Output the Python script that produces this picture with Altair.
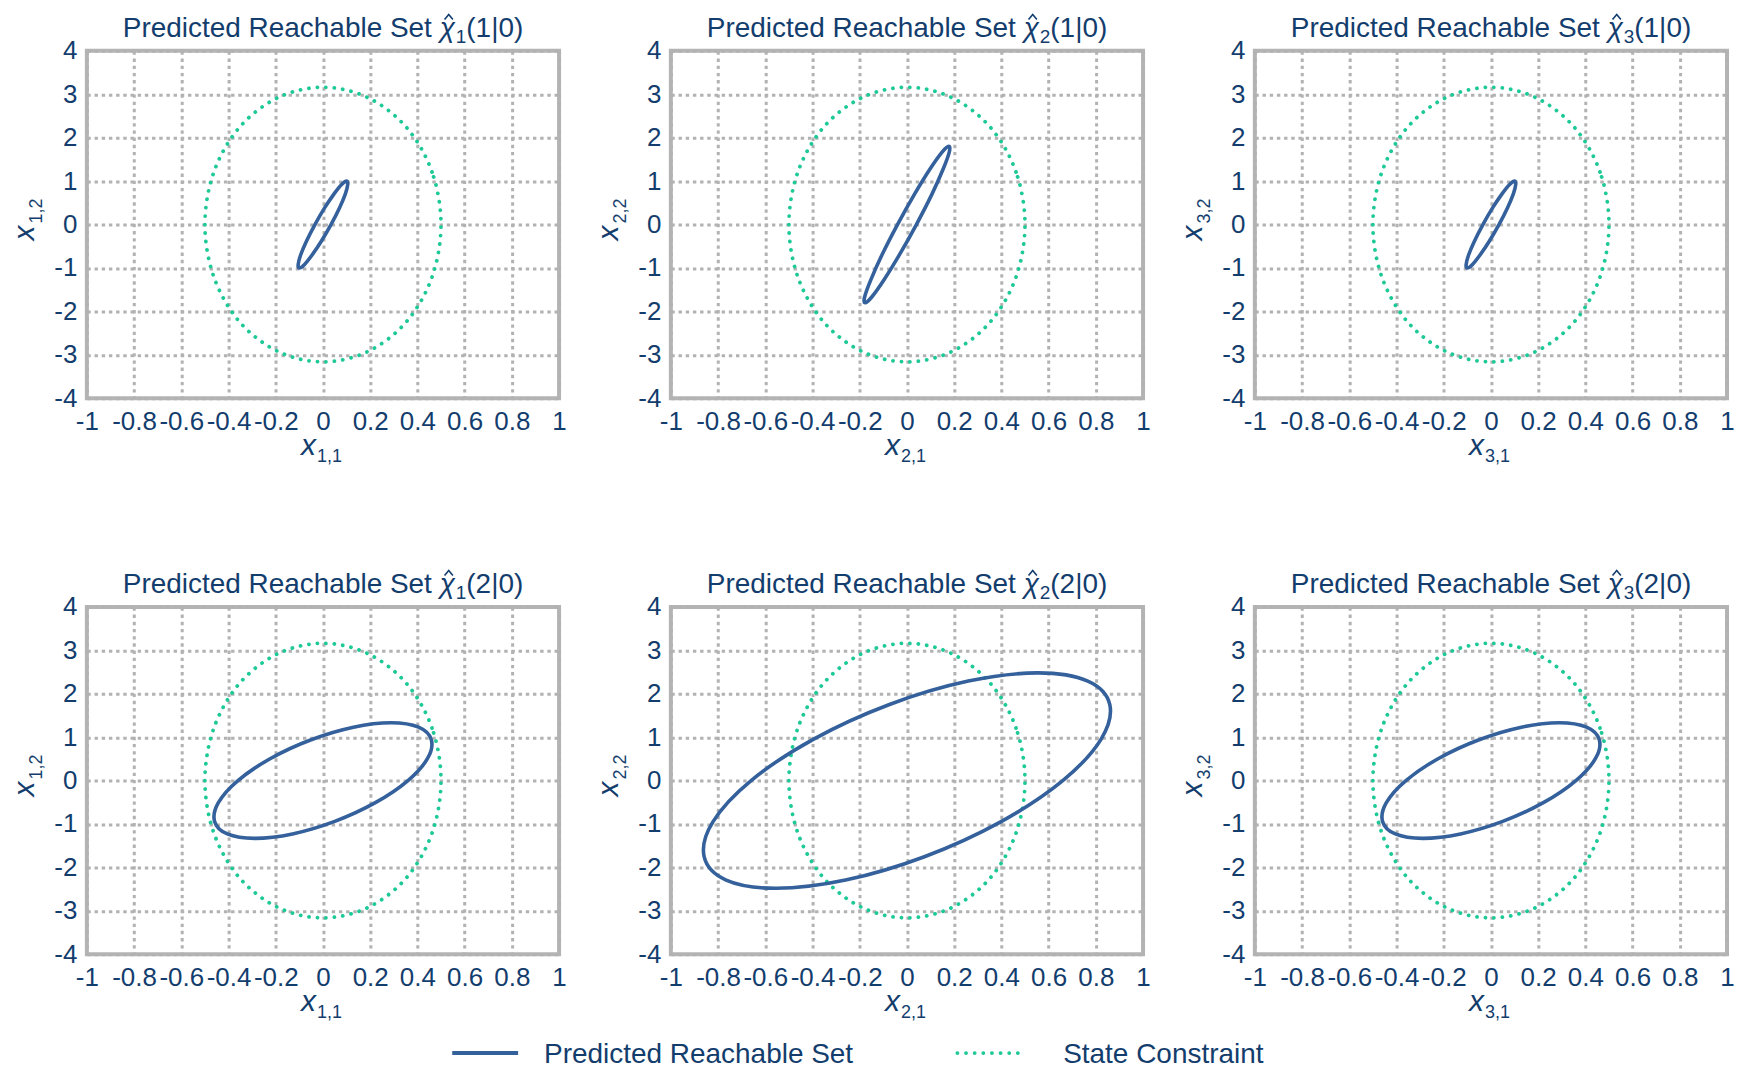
import altair as alt
import pandas as pd

FONT = "Liberation Sans"
NAVY = "#133d6d"
BLUE = "#34609b"
GREEN = "#1ec997"
GRID = "#b2b2b2"
BORDER = "#b4b4b4"

W, H = 473, 348

X_TICKS = [-1, -0.8, -0.6, -0.4, -0.2, 0, 0.2, 0.4, 0.6, 0.8, 1]
Y_TICKS = [-4, -3, -2, -1, 0, 1, 2, 3, 4]

TITLE_MAIN = "Predicted Reachable Set"
TITLE_SYMBOL = "\u03c7"
TITLE_SUBS = ["1", "2", "3", "1", "2", "3"]
TITLE_STEPS = ["(1|0)", "(1|0)", "(1|0)", "(2|0)", "(2|0)", "(2|0)"]
X_SUBS = ["1,1", "2,1", "3,1", "1,1", "2,1", "3,1"]
Y_SUBS = ["1,2", "2,2", "3,2", "1,2", "2,2", "3,2"]
LEGEND_LABELS = ["Predicted Reachable Set", "State Constraint"]

# state constraint (same in every panel)
CONSTRAINT_X = [0.5, 0.462, 0.354, 0.191, 0.0, -0.191, -0.354, -0.462,
                -0.5, -0.462, -0.354, -0.191, 0.0, 0.191, 0.354, 0.462]
CONSTRAINT_Y = [0.0, 1.210, 2.236, 2.921, 3.162, 2.921, 2.236, 1.210,
                0.0, -1.210, -2.236, -2.921, -3.162, -2.921, -2.236, -1.210]

# predicted reachable sets, step 1
X1_K1_X = [0.100, 0.105, 0.095, 0.070, 0.034, -0.007, -0.047, -0.079,
           -0.100, -0.105, -0.095, -0.070, -0.034, 0.007, 0.047, 0.079]
X1_K1_Y = [1.000, 0.924, 0.707, 0.383, 0.0, -0.383, -0.707, -0.924,
           -1.000, -0.924, -0.707, -0.383, 0.0, 0.383, 0.707, 0.924]
X2_K1_X = [0.177, 0.179, 0.153, 0.105, 0.040, -0.031, -0.097, -0.148,
           -0.177, -0.179, -0.153, -0.105, -0.040, 0.031, 0.097, 0.148]
X2_K1_Y = [1.800, 1.663, 1.273, 0.689, 0.0, -0.689, -1.273, -1.663,
           -1.800, -1.663, -1.273, -0.689, 0.0, 0.689, 1.273, 1.663]
X3_K1_X = [0.100, 0.105, 0.095, 0.070, 0.034, -0.007, -0.047, -0.079,
           -0.100, -0.105, -0.095, -0.070, -0.034, 0.007, 0.047, 0.079]
X3_K1_Y = [1.000, 0.924, 0.707, 0.383, 0.0, -0.383, -0.707, -0.924,
           -1.000, -0.924, -0.707, -0.383, 0.0, 0.383, 0.707, 0.924]

# predicted reachable sets, step 2
X1_K2_X = [0.289, 0.405, 0.459, 0.443, 0.360, 0.222, 0.050, -0.129,
           -0.289, -0.405, -0.459, -0.443, -0.360, -0.222, -0.050, 0.129]
X1_K2_Y = [1.330, 1.229, 0.940, 0.509, 0.0, -0.509, -0.940, -1.229,
           -1.330, -1.229, -0.940, -0.509, 0.0, 0.509, 0.940, 1.229]
X2_K2_X = [0.555, 0.766, 0.859, 0.822, 0.660, 0.397, 0.074, -0.260,
           -0.555, -0.766, -0.859, -0.822, -0.660, -0.397, -0.074, 0.260]
X2_K2_Y = [2.480, 2.291, 1.753, 0.950, 0.0, -0.950, -1.753, -2.291,
           -2.480, -2.291, -1.753, -0.950, 0.0, 0.950, 1.753, 2.291]
X3_K2_X = [0.289, 0.405, 0.459, 0.443, 0.360, 0.222, 0.050, -0.129,
           -0.289, -0.405, -0.459, -0.443, -0.360, -0.222, -0.050, 0.129]
X3_K2_Y = [1.330, 1.229, 0.940, 0.509, 0.0, -0.509, -0.940, -1.229,
           -1.330, -1.229, -0.940, -0.509, 0.0, 0.509, 0.940, 1.229]

SETS = [(X1_K1_X, X1_K1_Y), (X2_K1_X, X2_K1_Y), (X3_K1_X, X3_K1_Y),
        (X1_K2_X, X1_K2_Y), (X2_K2_X, X2_K2_Y), (X3_K2_X, X3_K2_Y)]

LABEL_EXPR = "replace(datum.label, '\u2212', '-')"
HAT_PATH = "M -1 0.6 L 0 -0.6 L 1 0.6"


def text_layer(s, x, y, size, italic=False, align="left", angle=0):
    return alt.Chart(pd.DataFrame({"s": [s]})).mark_text(
        font=FONT, fontSize=size, fontStyle="italic" if italic else "normal",
        color=NAVY, align=align, baseline="alphabetic", angle=angle,
    ).encode(x=alt.value(x), y=alt.value(y), text="s:N")


def title_layers(k):
    ty = -13.5
    x0 = W / 2 - 200.5
    chi_x = x0 + 317.5
    sub_x = chi_x + 16
    step_x = sub_x + 10.6
    hat = alt.Chart(pd.DataFrame({"s": [0]})).mark_point(
        shape=HAT_PATH, filled=False, color=NAVY, strokeWidth=1.6, size=70, opacity=1,
    ).encode(x=alt.value(chi_x + 9), y=alt.value(ty - 20.5))
    return [
        text_layer(TITLE_MAIN, x0, ty, 28),
        text_layer(TITLE_SYMBOL, chi_x, ty, 28, italic=True),
        hat,
        text_layer(TITLE_SUBS[k], sub_x, ty + 6, 19),
        text_layer(TITLE_STEPS[k], step_x, ty, 28),
    ]


def panel(k, with_legend=False):
    sx, sy = SETS[k]
    cons = pd.DataFrame({"x": CONSTRAINT_X, "y": CONSTRAINT_Y,
                         "i": list(range(len(CONSTRAINT_X)))})
    sdf = pd.DataFrame({"x": sx, "y": sy, "i": list(range(len(sx)))})
    xenc = alt.X("x:Q", scale=alt.Scale(domain=[-1, 1], nice=False, zero=False),
                 axis=alt.Axis(values=X_TICKS, format="~g", labelExpr=LABEL_EXPR, title=None,
                               labelOverlap=False, labelFlush=False, labelPadding=10))
    yenc = alt.Y("y:Q", scale=alt.Scale(domain=[-4, 4], nice=False, zero=False),
                 axis=alt.Axis(values=Y_TICKS, format="~g", labelExpr=LABEL_EXPR, title=None,
                               labelOverlap=False, labelFlush=False, labelPadding=10))
    cons_line = alt.Chart(cons).mark_line(
        color=GREEN, strokeWidth=3.8, strokeDash=[0.1, 8.4], strokeCap="round",
        interpolate="cardinal-closed",
    ).encode(x=xenc, y=yenc, order="i:Q")
    set_line = alt.Chart(sdf).mark_line(
        color=BLUE, strokeWidth=3.6, strokeJoin="round", interpolate="cardinal-closed",
    ).encode(x=xenc, y=yenc, order="i:Q")
    layers = [cons_line, set_line] + title_layers(k) + [
        text_layer("x", W / 2 - 7, H + 57, 30, italic=True, align="right"),
        text_layer(X_SUBS[k], W / 2 - 6, H + 64, 18),
        text_layer("x", -53, H / 2 + 1, 30, italic=True, align="right", angle=270),
        text_layer(Y_SUBS[k], -45, H / 2 - 1, 18, align="left", angle=270),
    ]
    if with_legend:
        ly = 447
        layers += [
            alt.Chart(pd.DataFrame({"s": [0]})).mark_rule(color=BLUE, strokeWidth=4).encode(
                x=alt.value(366), x2=alt.value(432), y=alt.value(ly)),
            alt.Chart(pd.DataFrame({"s": [0]})).mark_rule(
                color=GREEN, strokeWidth=3.8, strokeDash=[0.1, 8.55], strokeCap="round").encode(
                x=alt.value(872), x2=alt.value(933), y=alt.value(ly)),
            text_layer(LEGEND_LABELS[0], 458, ly + 10, 28),
            text_layer(LEGEND_LABELS[1], 978, ly + 10, 28),
        ]
    return alt.layer(*layers).properties(width=W, height=H)


chart = alt.concat(
    panel(0), panel(1), panel(2),
    panel(3, with_legend=True), panel(4), panel(5),
    columns=3, spacing={"row": 209, "column": 112}, bounds="flush",
).properties(
    padding={"left": 0, "top": 0, "right": 0, "bottom": 0},
    background="white",
).configure_view(
    stroke=BORDER, strokeWidth=4,
).configure_axis(
    labelFont=FONT, labelFontSize=26, labelColor=NAVY,
    domain=False, ticks=False,
    grid=True, gridColor=GRID, gridDash=[3.4, 3.8], gridWidth=3, gridOpacity=1,
)

chart.save("out.html", embed_options={"renderer": "svg", "actions": False})
